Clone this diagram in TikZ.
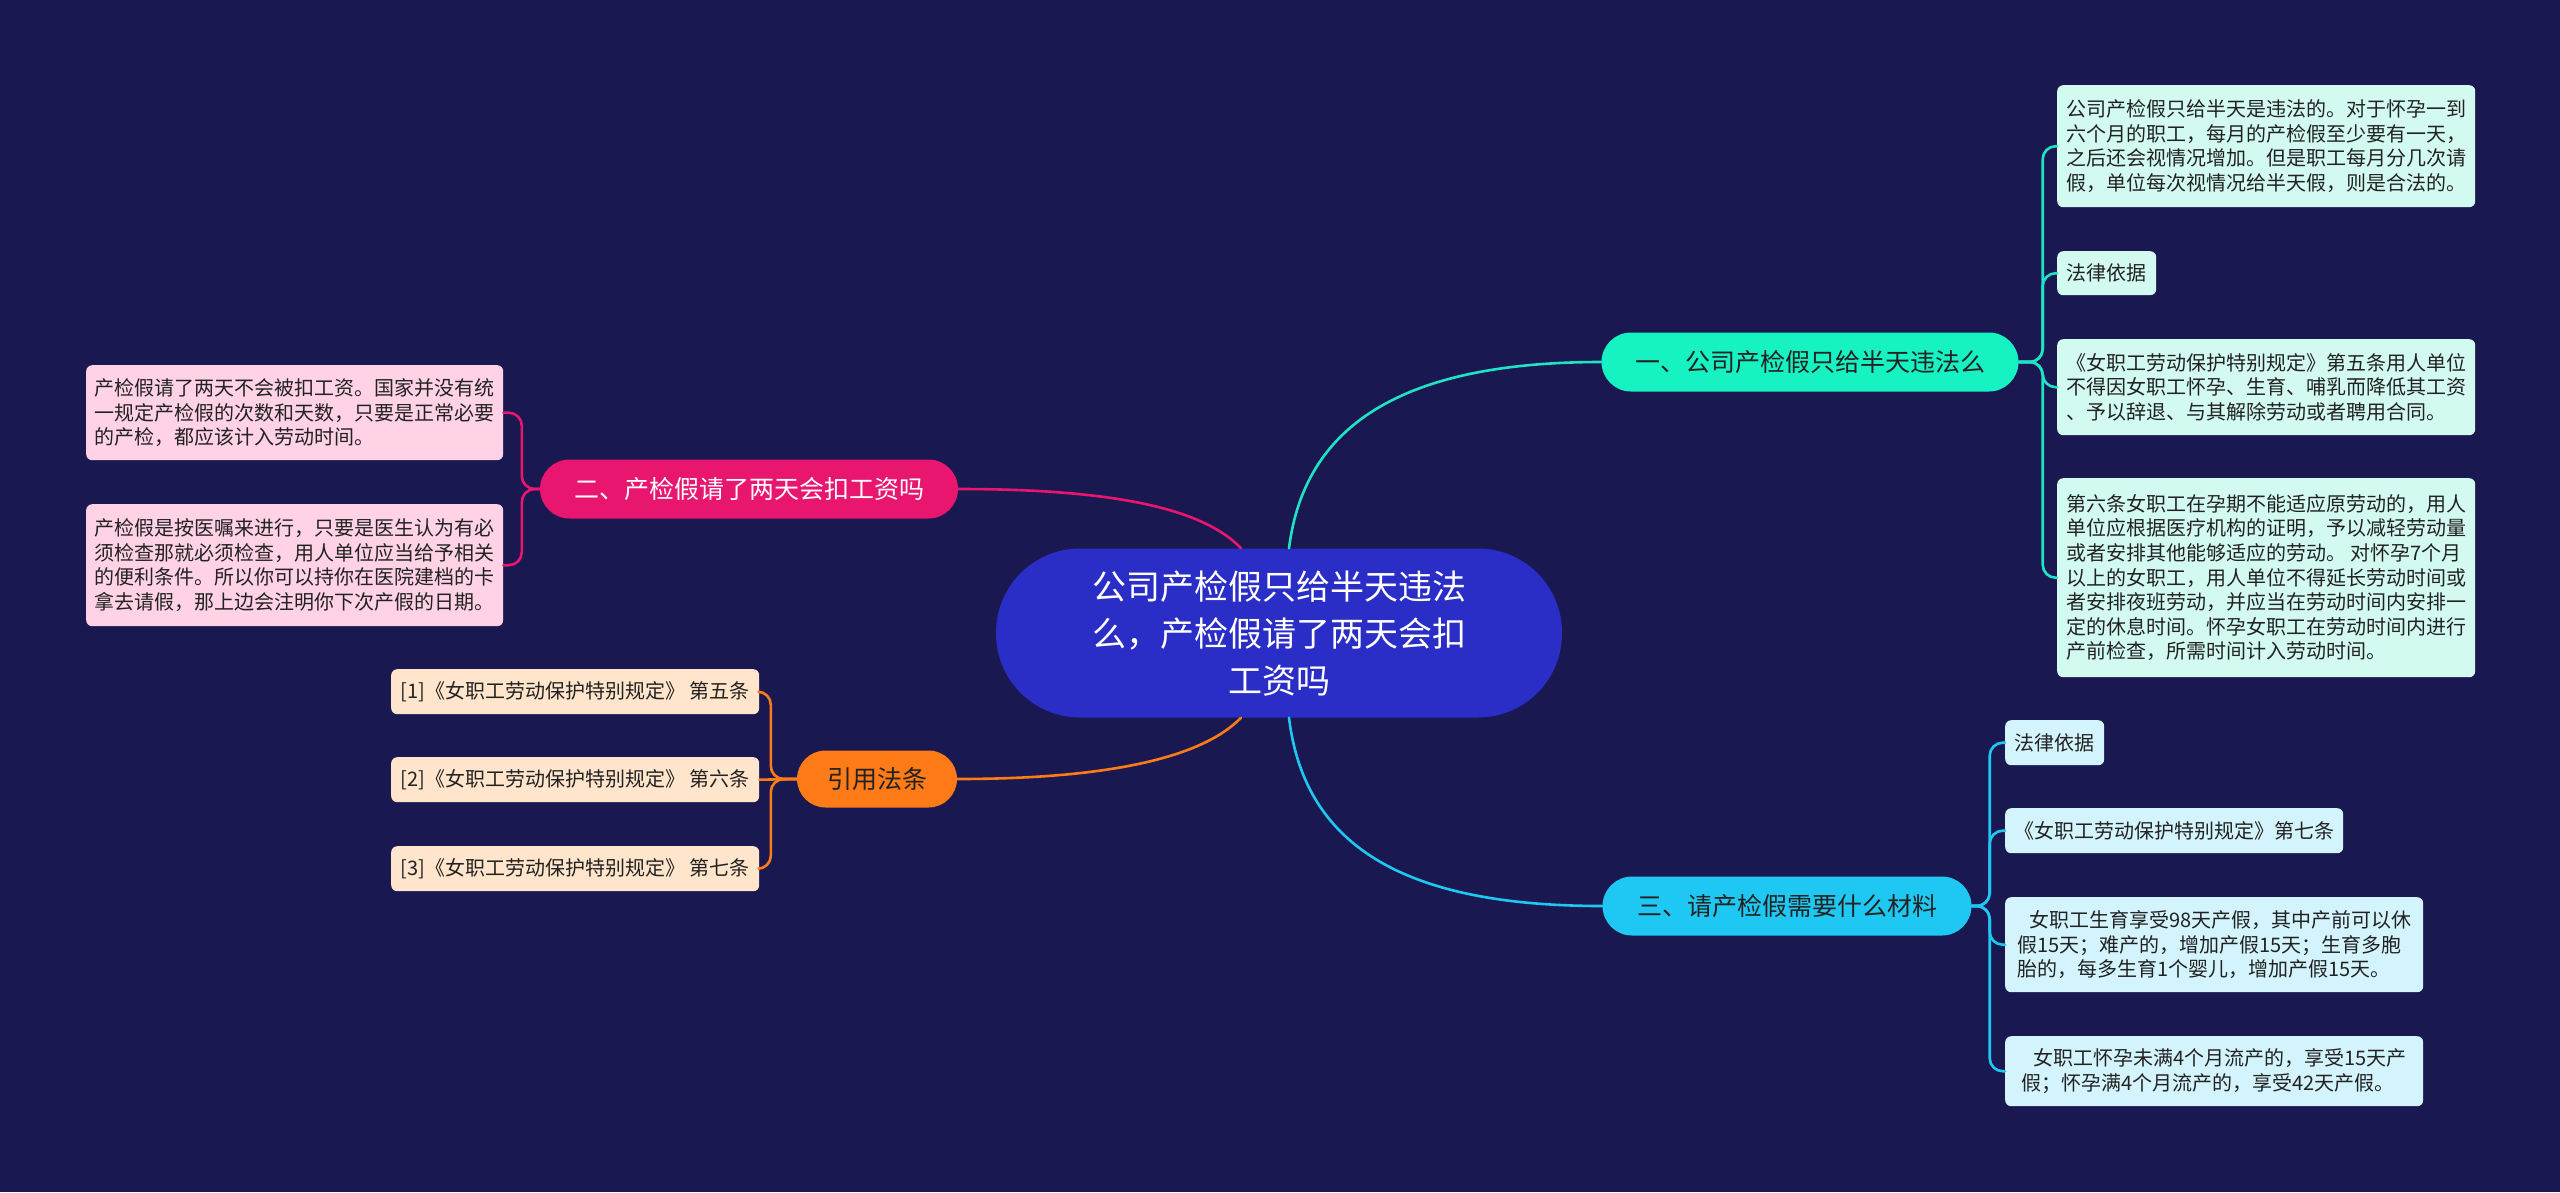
\documentclass[tikz,border=0pt]{standalone}
\usepackage{fontspec}
\setmainfont{Noto Sans CJK SC}
\definecolor{bg}{HTML}{1A1851}
\definecolor{cmain}{HTML}{2A2EC6}
\definecolor{tealB}{HTML}{17F2C3}
\definecolor{tealL}{HTML}{D2FAF1}
\definecolor{tealC}{HTML}{1FE3C4}
\definecolor{pinkB}{HTML}{E8166F}
\definecolor{pinkL}{HTML}{FFD2E5}
\definecolor{orB}{HTML}{FF7B17}
\definecolor{orL}{HTML}{FFE5CB}
\definecolor{skyB}{HTML}{1EC8F2}
\definecolor{skyL}{HTML}{D3F4FC}
\definecolor{dtext}{HTML}{222222}
\tikzset{
  leaf/.style={rounded corners=6pt, inner xsep=0pt, inner ysep=2pt, font=\fontsize{20}{24.6}\selectfont, align=left, text=dtext, anchor=north west},
  tleaf/.style={leaf, fill=tealL},
  pleaf/.style={leaf, fill=pinkL},
  oleaf/.style={leaf, fill=orL},
  sleaf/.style={leaf, fill=skyL},
  branch/.style={rounded corners=29.5pt, minimum height=59pt, inner sep=0pt, font=\fontsize{25}{30}\selectfont},
  conn/.style={line width=2.6pt, line cap=round},
  bconn/.style={conn, rounded corners=13pt},
}
\begin{document}
\begin{tikzpicture}[x=1pt, y=-1pt]
\useasboundingbox (0,0) rectangle (2560,1192);
\fill[bg] (0,0) rectangle (2560,1192);

% central
\node[fill=cmain, rounded corners=84pt, minimum width=566pt, minimum height=169pt, inner sep=0pt,
      text=white, align=center, font=\fontsize{34}{47}\selectfont] (c) at (1279,633)
  {公司产检假只给半天违法\\么，产检假请了两天会扣\\工资吗};

% branches
\node[branch, fill=tealB, text=dtext, minimum width=417pt] (b1) at (1810,362) {一、公司产检假只给半天违法么};
\node[branch, fill=pinkB, text=white, minimum width=418pt] (b2) at (749,489) {二、产检假请了两天会扣工资吗};
\node[branch, fill=orB, text=dtext, minimum width=160pt, minimum height=57pt, rounded corners=28.5pt] (b3) at (877,779) {引用法条};
\node[branch, fill=skyB, text=dtext, minimum width=369pt] (b4) at (1787,906) {三、请产检假需要什么材料};

% branch 1 leaves
\node[tleaf, minimum width=418pt, minimum height=122pt] (l1a) at (2057,85)
  {公司产检假只给半天是违法的。对于怀孕一到\\六个月的职工，每月的产检假至少要有一天，\\之后还会视情况增加。但是职工每月分几次请\\假，单位每次视情况给半天假，则是合法的。};
\node[tleaf, minimum width=99pt, minimum height=44pt] (l1b) at (2057,251) {法律依据};
\node[tleaf, minimum width=418pt, minimum height=96pt] (l1c) at (2057,339)
  {《女职工劳动保护特别规定》第五条用人单位\\不得因女职工怀孕、生育、哺乳而降低其工资\\、予以辞退、与其解除劳动或者聘用合同。};
\node[tleaf, minimum width=418pt, minimum height=199pt] (l1d) at (2057,478)
  {第六条女职工在孕期不能适应原劳动的，用人\\单位应根据医疗机构的证明，予以减轻劳动量\\或者安排其他能够适应的劳动。 对怀孕7个月\\以上的女职工，用人单位不得延长劳动时间或\\者安排夜班劳动，并应当在劳动时间内安排一\\定的休息时间。怀孕女职工在劳动时间内进行\\产前检查，所需时间计入劳动时间。};

% branch 2 leaves
\node[pleaf, minimum width=417pt, minimum height=95pt] (l2a) at (86,365)
  {产检假请了两天不会被扣工资。国家并没有统\\一规定产检假的次数和天数，只要是正常必要\\的产检，都应该计入劳动时间。};
\node[pleaf, minimum width=417pt, minimum height=122pt] (l2b) at (86,504)
  {产检假是按医嘱来进行，只要是医生认为有必\\须检查那就必须检查，用人单位应当给予相关\\的便利条件。所以你可以持你在医院建档的卡\\拿去请假，那上边会注明你下次产假的日期。};

% branch 3 leaves
\node[oleaf, minimum width=368pt, minimum height=45pt] (l3a) at (391,669) {[1]《女职工劳动保护特别规定》 第五条};
\node[oleaf, minimum width=368pt, minimum height=45pt] (l3b) at (391,757) {[2]《女职工劳动保护特别规定》 第六条};
\node[oleaf, minimum width=368pt, minimum height=45pt] (l3c) at (391,846) {[3]《女职工劳动保护特别规定》 第七条};

% branch 4 leaves
\node[sleaf, minimum width=99pt, minimum height=45pt] (l4a) at (2005,720) {法律依据};
\node[sleaf, minimum width=338pt, minimum height=45pt] (l4b) at (2005,808) {《女职工劳动保护特别规定》第七条};
\node[sleaf, minimum width=418pt, minimum height=95pt] (l4c) at (2005,897)
  {\hspace*{0.6em}女职工生育享受98天产假，其中产前可以休\\假15天；难产的，增加产假15天；生育多胞\\胎的，每多生育1个婴儿，增加产假15天。};
\node[sleaf, minimum width=418pt, minimum height=70pt] (l4d) at (2005,1036)
  {\hspace*{0.6em}女职工怀孕未满4个月流产的，享受15天产\\假；怀孕满4个月流产的，享受42天产假。};

% central connectors
\coordinate (ctN) at ([xshift=10pt]c.north);
\coordinate (cpN) at ([xshift=-38pt]c.north);
\coordinate (ctS) at ([xshift=10pt]c.south);
\coordinate (coS) at ([xshift=-38pt]c.south);
\draw[conn, tealC] (ctN) .. controls (1305,420) and (1410,362) .. (b1.west);
\draw[conn, pinkB] (b2.east) .. controls (1100,489) and (1200,505) .. (cpN);
\draw[conn, orB] (b3.east) .. controls (1100,779) and (1200,760) .. (coS);
\draw[conn, skyB] (ctS) .. controls (1305,850) and (1410,906) .. (b4.west);

% branch 1 connectors
\foreach \l in {l1a,l1b,l1c,l1d}
  \draw[bconn, tealC] (b1.east) -- ++(24,0) |- (\l.west);
% branch 2 connectors
\foreach \l in {l2a,l2b}
  \draw[bconn, pinkB] (b2.west) -- ++(-18,0) |- (\l.east);
% branch 3 connectors
\foreach \l in {l3a,l3c}
  \draw[bconn, orB] (b3.west) -- ++(-26,0) |- (\l.east);
\draw[conn, orB] (b3.west) -- (l3b.east);
% branch 4 connectors
\foreach \l in {l4a,l4b,l4c,l4d}
  \draw[bconn, skyB] (b4.east) -- ++(18,0) |- (\l.west);
\end{tikzpicture}
\end{document}
